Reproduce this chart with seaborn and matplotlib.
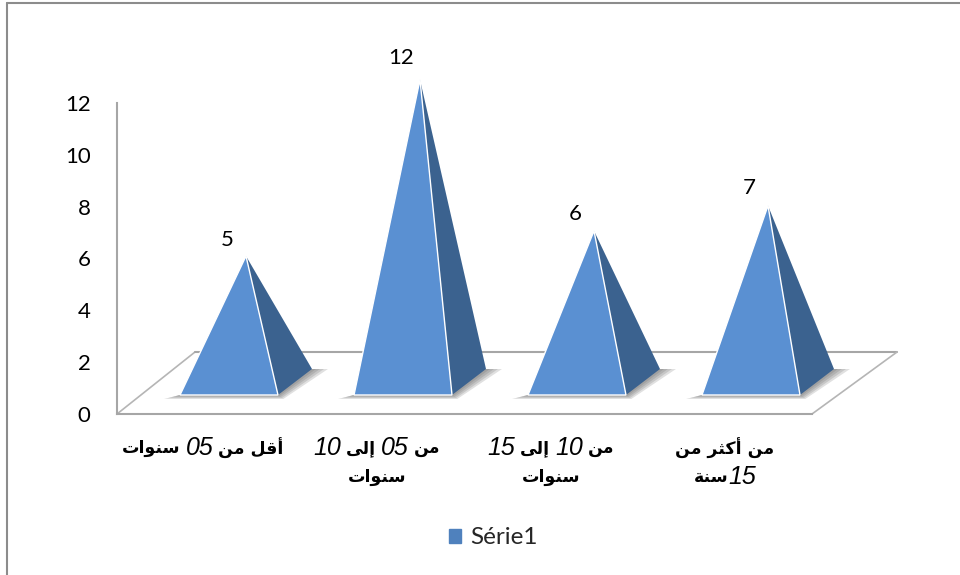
import re
import unicodedata
import matplotlib
matplotlib.use("Agg")
import matplotlib.pyplot as plt
from matplotlib.lines import Line2D
from matplotlib.patches import Patch, Polygon
import pandas as pd
import seaborn as sns

# data
categories = ["أقل من 05 سنوات", "من 05 إلى 10 سنوات", "من 10 إلى 15 سنوات", "من أكثر من 15سنة"]
label_lines = [["أقل من 05 سنوات"], ["من 05 إلى 10", "سنوات"], ["من 10 إلى 15", "سنوات"], ["من أكثر من", "15سنة"]]
values = [5, 12, 6, 7]
y_ticks = [0, 2, 4, 6, 8, 10, 12]
series_name = "Série1"

FRONT = "#5A90D2"
SIDE = "#3B628F"
GREY = "#A6A6A6"

# pixel layout of the reference
PX_X0, PX_DX = 229, 174      # first category centre, category spacing
PX_Y0, PX_DY = 414, 25.92    # value 0 on the wall, pixels per unit
DEPTH_X, DEPTH_Y = 34, 26    # depth of the 3d effect
PYR_SCALE = 25.2 / PX_DY     # pyramids are a bit smaller than the wall scale

# matplotlib does not shape arabic, so pick the presentation forms by hand
forms = {}
for code in range(0xFE70, 0xFEFD):
    d = unicodedata.decomposition(chr(code)).split()
    if len(d) == 2 and d[0] in ("<isolated>", "<final>", "<initial>", "<medial>"):
        forms.setdefault(chr(int(d[1], 16)), {})[d[0]] = chr(code)
RIGHT_ONLY = set("اأإآدذرزوةى")


def shape(run):
    out = []
    for i, c in enumerate(run):
        if c not in forms:
            out.append(c)
            continue
        before = i > 0 and run[i - 1] in forms and run[i - 1] not in RIGHT_ONLY
        after = i < len(run) - 1 and run[i + 1] in forms and c not in RIGHT_ONLY
        key = "<medial>" if before and after else "<final>" if before else "<initial>" if after else "<isolated>"
        out.append(forms[c].get(key, c))
    return "".join(out)[::-1]


def visual_runs(line):
    # runs from left to right on the page: (text, is_digits, gap after it in px)
    runs = []
    for part in reversed([p for p in re.split(r"(\d+)", line) if p]):
        is_num = part.isdigit()
        gap_left = part.endswith(" ")
        gap_right = part.startswith(" ")
        runs.append((part if is_num else shape(part.strip()), is_num, gap_left, gap_right))
    return runs


def px_x(x):
    return (x - PX_X0) / PX_DX


def px_y(y):
    return (PX_Y0 - y) / PX_DY


sns.set_theme(style="white")
plt.rcParams["font.family"] = "Lato"

fig = plt.figure(figsize=(9.6, 5.75), dpi=100)
ax = fig.add_axes([117 / 960, 1 - 414 / 575, (812 - 117) / 960, (414 - 103) / 575])

df = pd.DataFrame({"category": categories, "value": values})
sns.barplot(data=df, x="category", y="value", color=FRONT, width=98 / PX_DX, ax=ax)

ax.set_xlim(px_x(117), px_x(812))
ax.set_ylim(0, 12)
ax.set_xlabel("")
ax.set_ylabel("")
ax.set_xticks([])
ax.set_yticks(y_ticks)
ax.tick_params(axis="y", length=0, pad=19, labelsize=16, labelcolor="black")
sns.despine(ax=ax, top=True, right=True)
for name in ("left", "bottom"):
    ax.spines[name].set_color(GREY)
    ax.spines[name].set_linewidth(1.5)

# floor of the 3d box
floor = [(117, 414), (117 + 78, 352), (897, 352), (812, 414)]
fx = [px_x(p[0]) for p in floor]
fy = [px_y(p[1]) for p in floor]
ax.plot(fx[:2], fy[:2], color="#B5B5B5", lw=1.2, clip_on=False, zorder=1)
ax.plot(fx[1:3], fy[1:3], color=GREY, lw=1.5, clip_on=False, zorder=1)
ax.plot(fx[2:], fy[2:], color="#B5B5B5", lw=1.2, clip_on=False, zorder=1)

# turn every bar into a pyramid
dx, dy = DEPTH_X / PX_DX, DEPTH_Y / PX_DY
for bar, v in zip(list(ax.patches), values):
    left, width = bar.get_x(), bar.get_width()
    right = left + width
    base = px_y(395)
    apex_x = left + width / 2 + dx / 2
    apex_y = base + dy / 2 + bar.get_height() * PYR_SCALE
    bar.remove()

    # soft shadow on the floor
    for k in range(1, 5):
        e = k * 4
        shadow = [(left - e / PX_DX, base - k / PX_DY), (right + e / 3 / PX_DX, base - k / PX_DY),
                  (right + dx + e / PX_DX, base + dy), (right + dx - 8 / PX_DX, base + dy), (left, base)]
        ax.add_patch(Polygon(shadow, closed=True, fc="#555555", ec="none", alpha=0.18, clip_on=False, zorder=2))

    ax.add_patch(Polygon([(right, base), (right + dx, base + dy), (apex_x, apex_y)], closed=True,
                         fc=SIDE, ec="none", clip_on=False, zorder=3))
    ax.add_patch(Polygon([(left, base), (right, base), (apex_x, apex_y)], closed=True,
                         fc=FRONT, ec="white", lw=1.0, clip_on=False, zorder=4))
    ax.text(left + width / 2 - 1.5 / PX_DX, v + 1.73, str(v), ha="center", va="center",
            fontsize=16, color="black", zorder=5)

# category labels, built run by run because the digits use another font
fig.canvas.draw()
renderer = fig.canvas.get_renderer()
SPACE = 5
for i, lines in enumerate(label_lines):
    cx = ax.transData.transform((i, 0))[0] - 26
    for j, line in enumerate(lines):
        y_fig = 1 - (448 + 29 * j) / 575
        items = []
        for text, is_num, gap_l, gap_r in visual_runs(line):
            if is_num:
                t = fig.text(0, y_fig, text, family="Liberation Sans", style="italic", fontsize=18,
                             color="black", va="center", ha="left")
            else:
                t = fig.text(0, y_fig, text, family="DejaVu Sans", weight="bold", fontsize=12.5,
                             color="black", va="center", ha="left")
            items.append((t, t.get_window_extent(renderer).width, gap_l, gap_r))
        total = sum(w for _, w, _, _ in items)
        total += sum(SPACE for _, _, g, _ in items[1:] if g) + sum(SPACE for _, _, _, g in items[:-1] if g)
        x = cx - total / 2
        for n, (t, w, gap_l, gap_r) in enumerate(items):
            if n > 0 and gap_l:
                x += SPACE
            t.set_x(x / fig.bbox.width)
            x += w
            if n < len(items) - 1 and gap_r:
                x += SPACE

# legend
fig.legend(handles=[Patch(color="#4F81BD", label=series_name)], loc="center",
           bbox_to_anchor=(493 / 960, 1 - 538 / 575), frameon=False, fontsize=17.5,
           handlelength=0.53, handleheight=0.53, handletextpad=0.35)

# outer chart border, only top and left show in the picture
fig.add_artist(Line2D([7 / 960, 7 / 960], [0, 1 - 3 / 575], color="#8C8C8C", lw=1.5))
fig.add_artist(Line2D([7 / 960, 1], [1 - 3 / 575, 1 - 3 / 575], color="#8C8C8C", lw=1.5))

fig.savefig("out.png", dpi=100)
